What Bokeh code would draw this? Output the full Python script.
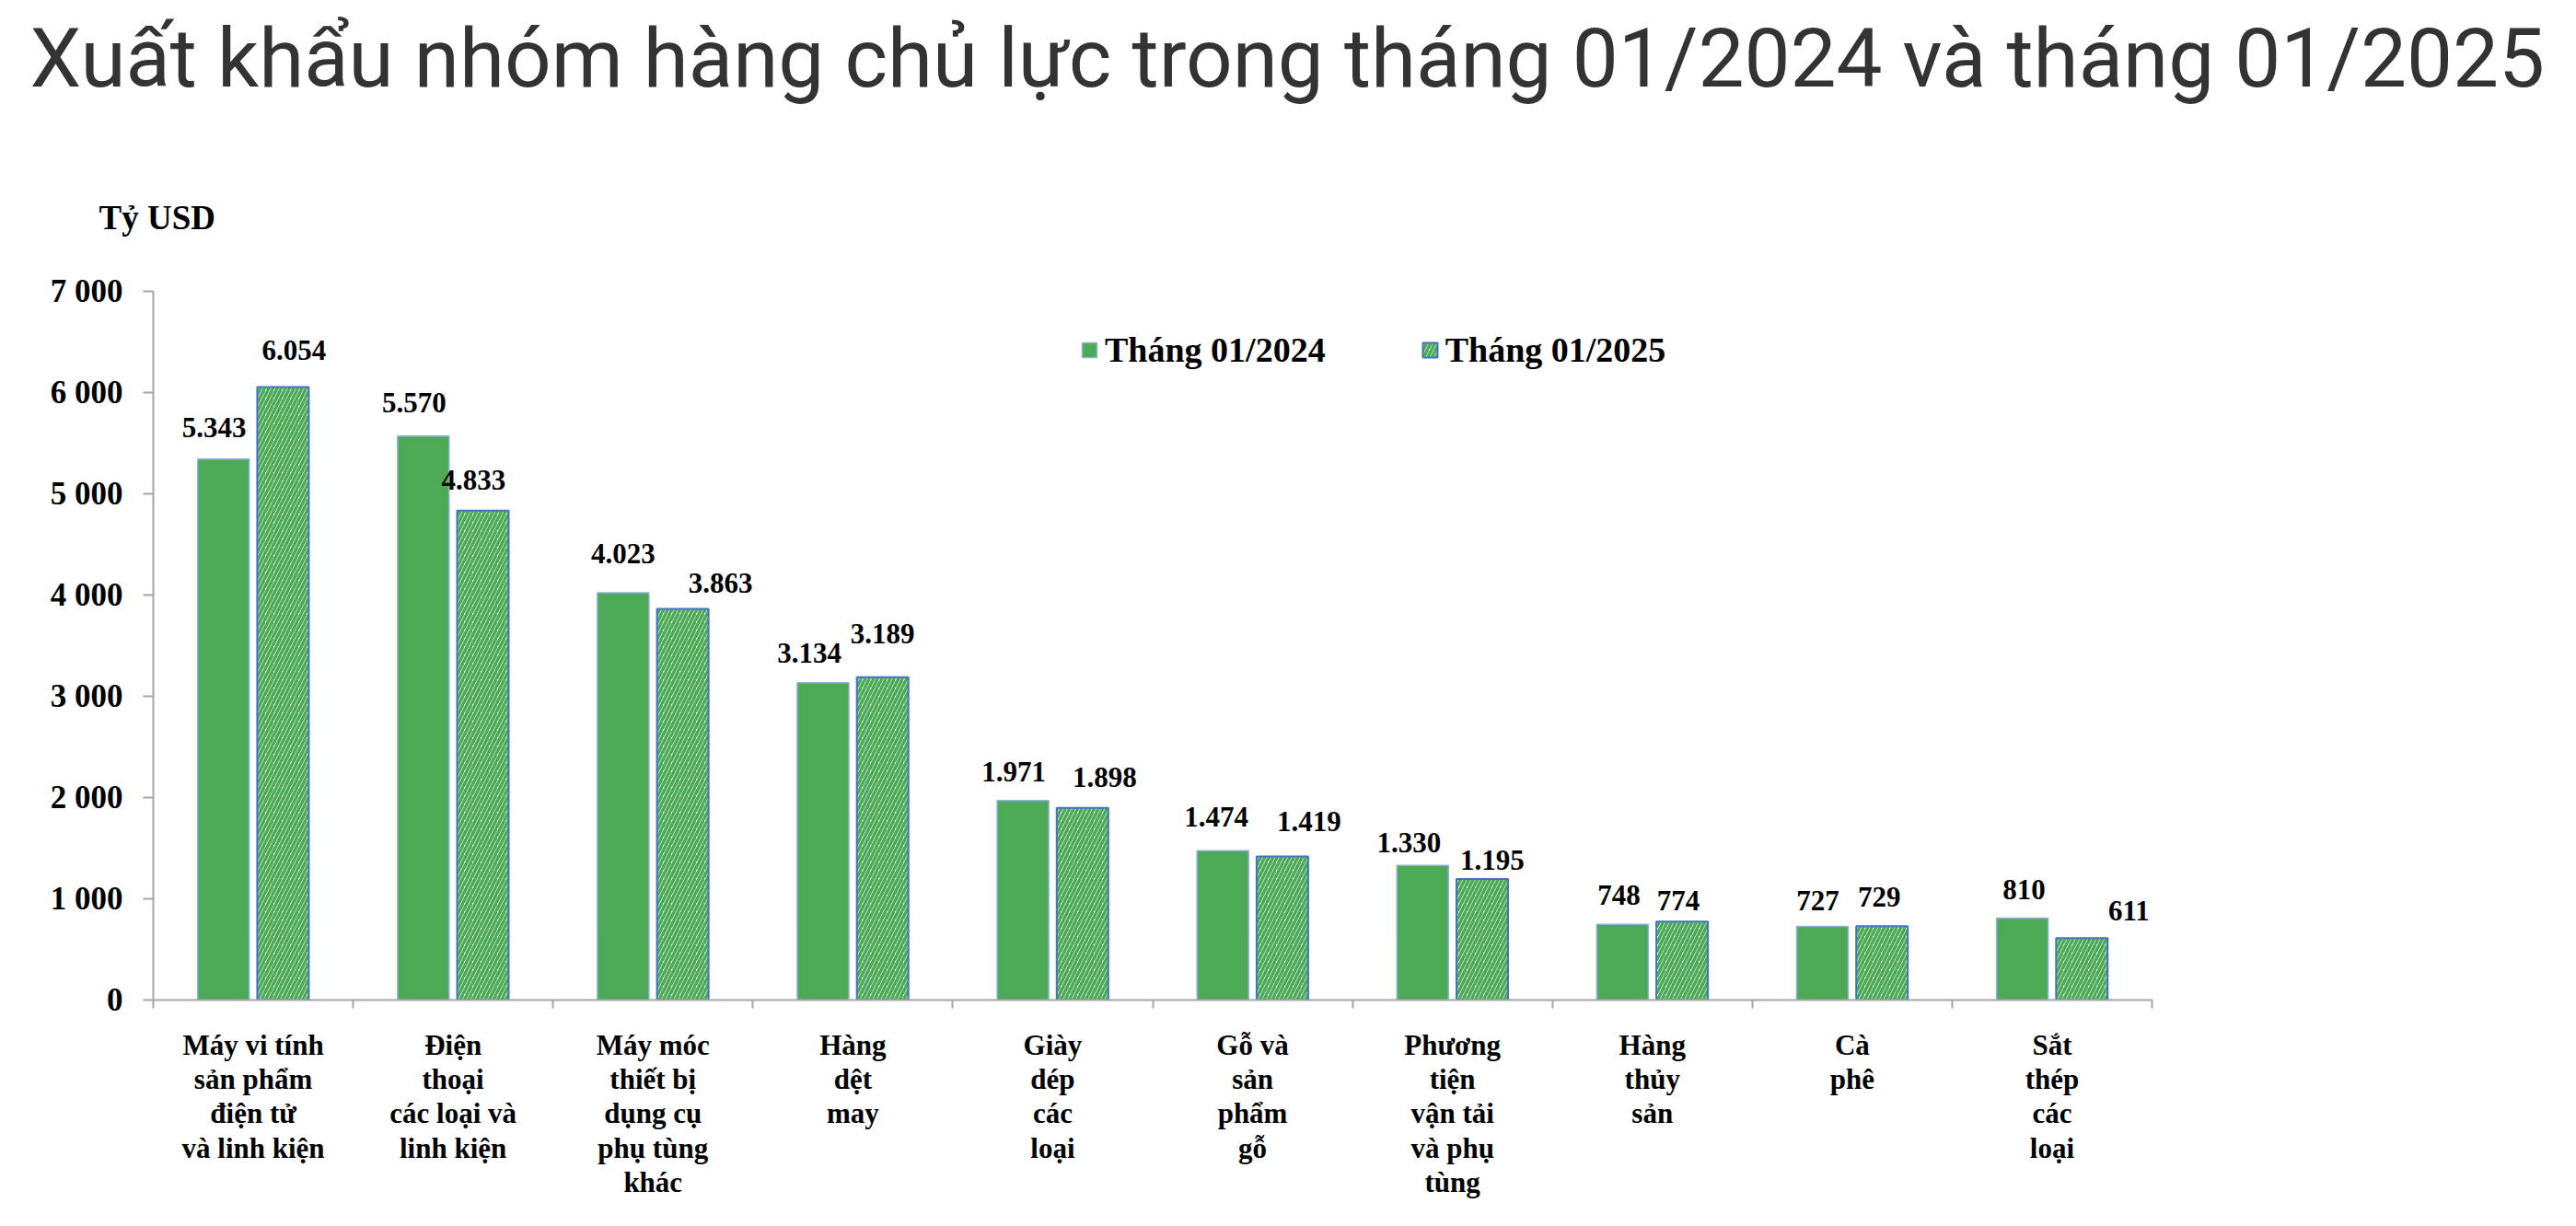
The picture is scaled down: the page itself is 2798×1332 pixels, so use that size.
from bokeh.plotting import figure
from bokeh.models import (ColumnDataSource, FixedTicker, LabelSet, Legend,
                          LegendItem, Range1d, LinearAxis, Title)
from bokeh.transform import dodge
from bokeh.embed import file_html
from bokeh.resources import INLINE

# ---------------- data ----------------
title_text = "Xuất khẩu nhóm hàng chủ lực trong tháng 01/2024 và tháng 01/2025"
unit_label = "Tỷ USD"
categories = [
    "Máy vi tính\nsản phẩm\nđiện tử\nvà linh kiện",
    "Điện\nthoại\ncác loại và\nlinh kiện",
    "Máy móc\nthiết bị\ndụng cụ\nphụ tùng\nkhác",
    "Hàng\ndệt\nmay",
    "Giày\ndép\ncác\nloại",
    "Gỗ và\nsản\nphẩm\ngỗ",
    "Phương\ntiện\nvận tải\nvà phụ\ntùng",
    "Hàng\nthủy\nsản",
    "Cà\nphê",
    "Sắt\nthép\ncác\nloại",
]
series_names = ["Tháng 01/2024", "Tháng 01/2025"]
values_2024 = [5343, 5570, 4023, 3134, 1971, 1474, 1330, 748, 727, 810]
values_2025 = [6054, 4833, 3863, 3189, 1898, 1419, 1195, 774, 729, 611]
labels_2024 = ["5.343", "5.570", "4.023", "3.134", "1.971", "1.474", "1.330", "748", "727", "810"]
labels_2025 = ["6.054", "4.833", "3.863", "3.189", "1.898", "1.419", "1.195", "774", "729", "611"]
y_ticks = [0, 1000, 2000, 3000, 4000, 5000, 6000, 7000]
y_tick_labels = ["0", "1 000", "2 000", "3 000", "4 000", "5 000", "6 000", "7 000"]

# label nudges in screen px (position tweaks, not data)
dx_2024 = [-10, -10, 0, -15, -10, -7, -15, -4, -5, 2]
dy_2024 = [34, 36, 42, 32, 31, 37, 25, 32, 28, 31]
dx_2025 = [12, -10, 41, 0, 24, 29, 11, -4, -3, 51]
dy_2025 = [40, 33, 28, 47, 33, 38, 21, 23, 32, 30]

# ---------------- layout ----------------
W, H = 2782, 1316
FL, FR, FT, FB = 166, 2337, 316, 1086
n = len(categories)
YMAX = 7000
px_per_cat = (FR - FL) / n
y_per_px = YMAX / (FB - FT)

GREEN = "#4caa57"
SERIF = "Liberation Serif"

p = figure(width=W, height=H, output_backend="svg", toolbar_location=None,
           x_range=Range1d(0, n), y_range=Range1d(0, YMAX),
           x_axis_type=None, y_axis_type=None,
           min_border_left=FL, min_border_right=W - FR,
           min_border_top=FT, min_border_bottom=H - FB)
p.outline_line_color = None
p.background_fill_color = "white"
p.border_fill_color = "white"

# titles (above panel, stacked outward from the frame)
def spacer(h):
    return Title(text=" ", text_font_size="1px", standoff=h, text_color="white")

p.add_layout(spacer(57), "above")
p.add_layout(Title(text=unit_label, align="left", offset=107 - FL,
                   text_font=SERIF, text_font_style="bold", text_font_size="37px",
                   text_color="black", standoff=0), "above")
p.add_layout(spacer(95), "above")
p.title.text = title_text
p.title.align = "left"
p.title.offset = 32 - FL
p.title.text_font = "Roboto"
p.title.text_font_style = "normal"
p.title.text_font_size = "89px"
p.title.text_color = "#333333"
p.title.standoff = 0

# y axis
yax = LinearAxis(ticker=FixedTicker(ticks=y_ticks),
                 major_label_overrides={t: l for t, l in zip(y_ticks, y_tick_labels)})
yax.axis_line_color = "#a6a6a6"
yax.axis_line_width = 2
yax.major_tick_line_color = "#a6a6a6"
yax.major_tick_line_width = 2
yax.major_tick_out = 11
yax.major_tick_in = 0
yax.minor_tick_line_color = None
yax.major_label_text_font = SERIF
yax.major_label_text_font_style = "bold"
yax.major_label_text_font_size = "35px"
yax.major_label_text_color = "black"
yax.major_label_standoff = 22
p.add_layout(yax, "left")

# x axis: category names at centres, tick marks at boundaries
centers = [i + 0.5 for i in range(n)]
xax = LinearAxis(ticker=FixedTicker(ticks=centers, minor_ticks=list(range(n + 1))),
                 major_label_overrides={c: t for c, t in zip(centers, categories)})
xax.axis_line_color = "#a6a6a6"
xax.axis_line_width = 2
xax.major_tick_line_color = None
xax.major_tick_out = 0
xax.major_tick_in = 0
xax.minor_tick_line_color = "#a6a6a6"
xax.minor_tick_line_width = 2
xax.minor_tick_out = 9
xax.minor_tick_in = 0
xax.major_label_text_font = SERIF
xax.major_label_text_font_style = "bold"
xax.major_label_text_font_size = "31px"
xax.major_label_text_color = "black"
xax.major_label_text_line_height = 1.07
xax.major_label_standoff = 22
p.add_layout(xax, "below")

# bars
src = ColumnDataSource(dict(x=centers, v24=values_2024, v25=values_2025))
OFF = 0.149
BW = 0.258
r1 = p.vbar(x=dodge("x", -OFF, range=p.x_range), top="v24", bottom=0, width=BW, source=src,
            fill_color=GREEN, line_color="#8fb1dd", line_width=1.5)
r2 = p.vbar(x=dodge("x", OFF, range=p.x_range), top="v25", bottom=0, width=BW, source=src,
            fill_color="white", hatch_pattern="/", hatch_color=GREEN,
            hatch_scale=9, hatch_weight=3.5, line_color="#4472c4", line_width=2)

# value labels
lx, ly, lt = [], [], []
for i in range(n):
    lx.append(centers[i] - OFF + dx_2024[i] / px_per_cat)
    ly.append(values_2024[i] + dy_2024[i] * y_per_px)
    lt.append(labels_2024[i])
    lx.append(centers[i] + OFF + dx_2025[i] / px_per_cat)
    ly.append(values_2025[i] + dy_2025[i] * y_per_px)
    lt.append(labels_2025[i])
lsrc = ColumnDataSource(dict(x=lx, y=ly, t=lt))
p.add_layout(LabelSet(x="x", y="y", text="t", source=lsrc, text_align="center",
                      text_baseline="middle", text_font=SERIF, text_font_style="bold",
                      text_font_size="31px", text_color="black"))

# legend
legend = Legend(items=[LegendItem(label=series_names[0], renderers=[r1]),
                       LegendItem(label=series_names[1], renderers=[r2])],
                orientation="horizontal", location=(1007, 684))
legend.label_text_font = SERIF
legend.label_text_font_style = "bold"
legend.label_text_font_size = "38px"
legend.label_text_color = "black"
legend.glyph_width = 20
legend.glyph_height = 20
legend.label_standoff = 7
legend.spacing = 103
legend.padding = 0
legend.margin = 0
legend.border_line_color = None
legend.background_fill_alpha = 0
p.add_layout(legend, "center")

open("out.html", "w").write(file_html(p, INLINE))
